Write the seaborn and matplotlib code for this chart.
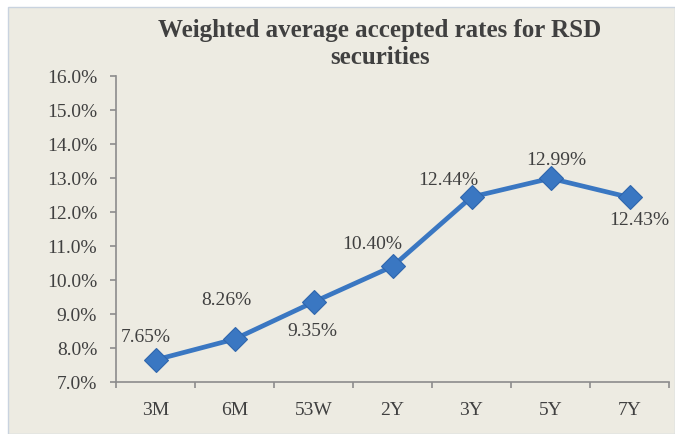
import matplotlib
matplotlib.use("Agg")
import matplotlib.pyplot as plt
import seaborn as sns
import pandas as pd
from matplotlib.patches import Rectangle
from matplotlib.ticker import FuncFormatter, MultipleLocator, FixedLocator

sns.set_theme(style="white")
plt.rcParams['font.family'] = ['Liberation Serif', 'DejaVu Serif']

categories = ["3M", "6M", "53W", "2Y", "3Y", "5Y", "7Y"]
rates = [7.65, 8.26, 9.35, 10.40, 12.44, 12.99, 12.43]
labels = ["7.65%", "8.26%", "9.35%", "10.40%", "12.44%", "12.99%", "12.43%"]

df = pd.DataFrame({"tenor": categories, "rate": rates, "pos": range(len(categories))})

W, H = 675, 435
fig = plt.figure(figsize=(W / 100, H / 100), dpi=100)
fig.patch.set_facecolor("white")
bg = "#EDEBE2"
fig.add_artist(Rectangle((8 / W, 0), 1 - 8 / W, 1 - 8 / H, transform=fig.transFigure,
                         facecolor=bg, edgecolor="#C9D3DF", linewidth=1.0, zorder=0))

ax = fig.add_axes([116 / W, 1 - 383 / H, (669 - 116) / W, (383 - 77) / H])
ax.set_facecolor("none")

blue = "#3A77C2"
sns.lineplot(data=df, x="pos", y="rate", ax=ax, color=blue, linewidth=3.4,
             marker="D", markersize=12, markeredgecolor="#2F66AD", markeredgewidth=0.8,
             sort=False)

ax.set_xlim(-0.5, len(categories) - 0.5)
ax.set_ylim(7.0, 16.0)
ax.yaxis.set_major_locator(MultipleLocator(1.0))
ax.yaxis.set_major_formatter(FuncFormatter(lambda v, p: f"{v:.1f}%"))
ax.xaxis.set_major_locator(FixedLocator(list(range(len(categories)))))
ax.set_xticklabels(categories)
ax.xaxis.set_minor_locator(FixedLocator([i - 0.5 for i in range(len(categories) + 1)]))

for s in ["top", "right"]:
    ax.spines[s].set_visible(False)
for s in ["left", "bottom"]:
    ax.spines[s].set_color("#8C8C8C")
    ax.spines[s].set_linewidth(1.2)

txt = "#404040"
ax.tick_params(axis="y", which="major", left=True, length=4, width=1.2, color="#8C8C8C",
               labelsize=14, labelcolor=txt, pad=9.5)
ax.tick_params(axis="x", which="major", bottom=False, labelsize=14, labelcolor=txt, pad=8)
ax.tick_params(axis="x", which="minor", bottom=True, length=4, width=1.2, color="#8C8C8C")
ax.set_xlabel("")
ax.set_ylabel("")

offsets = [(-10, 23), (-8, 40), (-1, -28), (-20, 23), (-23, 18), (6, 19), (10, -22)]
for i, (lab, off) in enumerate(zip(labels, offsets)):
    ax.annotate(lab, (i, rates[i]), xytext=off, textcoords="offset pixels",
                ha="center", va="center", fontsize=14, color=txt)

fig.text(380 / W, 1 - 30 / H, "Weighted average accepted rates for RSD", ha="center",
         va="center", fontsize=18, fontweight="bold", color=txt)
fig.text(380 / W, 1 - 57 / H, "securities", ha="center", va="center", fontsize=18,
         fontweight="bold", color=txt)

fig.savefig("out.png", dpi=100, facecolor=fig.get_facecolor())
